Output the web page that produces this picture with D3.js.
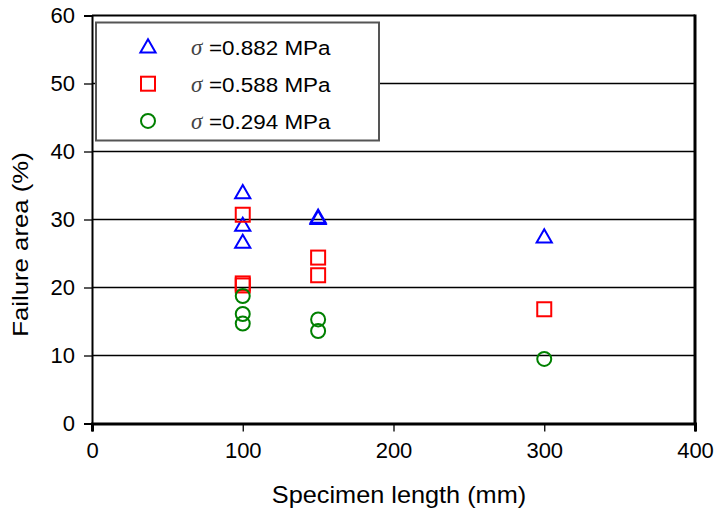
<!DOCTYPE html>
<html>
<head>
<meta charset="utf-8">
<script src="https://cdn.jsdelivr.net/npm/d3@7"></script>
<style>
  body { margin: 0; background: #fff; }
  text { font-family: "Liberation Sans", Arial, sans-serif; }
</style>
</head>
<body>
<svg id="chart" width="717" height="512"></svg>
<script>
// series data
var triX = [100, 100, 100, 150, 150, 300],
    triY = [34.0, 29.2, 26.7, 30.4, 30.2, 27.5];
var sqX = [100, 100, 100, 150, 150, 300],
    sqY = [30.7, 20.6, 20.3, 24.4, 21.8, 16.8];
var circX = [100, 100, 100, 150, 150, 300],
    circY = [18.75, 16.1, 14.7, 15.3, 13.6, 9.5];

var xTicks = [0, 100, 200, 300, 400],
    yTicks = [0, 10, 20, 30, 40, 50, 60];
var legendLabels = ["=0.882 MPa", "=0.588 MPa", "=0.294 MPa"];

// plot box
var plotLeft = 92, plotRight = 695, plotTop = 15.5, plotBottom = 423.5;

var svg = d3.select("#chart");

var x = d3.scaleLinear().domain([0, 400]).range([plotLeft, plotRight]),
    y = d3.scaleLinear().domain([0, 60]).range([plotBottom, plotTop]);

// horizontal gridlines
svg.append("g")
    .selectAll("line")
    .data(yTicks.filter(function(d) { return d > 0; }))
  .enter().append("line")
    .attr("x1", plotLeft).attr("x2", plotRight)
    .attr("y1", function(d) { return y(d); })
    .attr("y2", function(d) { return y(d); })
    .attr("stroke", "#000")
    .attr("stroke-width", function(d) { return d == 60 ? 2 : 1.3; });

// right border
svg.append("line")
    .attr("x1", plotRight).attr("x2", plotRight)
    .attr("y1", plotTop - 1).attr("y2", plotBottom)
    .attr("stroke", "#000").attr("stroke-width", 3);

// y axis
var yAxis = svg.append("g")
    .attr("transform", "translate(" + plotLeft + ",0)")
    .call(d3.axisLeft(y).tickValues(yTicks).tickSize(8).tickPadding(9));
yAxis.select(".domain").attr("stroke-width", 2);
yAxis.selectAll(".tick line").attr("stroke-width", 1.3);
yAxis.selectAll("text").style("font-size", "22px").attr("fill", "#000")
    .attr("font-family", null);

// x axis
var xAxis = svg.append("g")
    .attr("transform", "translate(0," + plotBottom + ")")
    .call(d3.axisBottom(x).tickValues(xTicks).tickSize(8).tickPadding(11));
xAxis.select(".domain").attr("stroke-width", 3);
xAxis.selectAll(".tick line").attr("stroke-width", 1.3);
xAxis.selectAll("text").style("font-size", "22px").attr("fill", "#000")
    .attr("font-family", null);

// axis titles
svg.append("text")
    .attr("transform", "translate(399,503) scale(1.1,1)")
    .attr("text-anchor", "middle")
    .style("font-size", "23px")
    .text("Specimen length (mm)");

svg.append("text")
    .attr("transform", "translate(28,244.5) rotate(-90) scale(1.12,1)")
    .attr("text-anchor", "middle")
    .style("font-size", "23px")
    .text("Failure area (%)");

// markers
var triangle = d3.symbol().type(d3.symbolTriangle).size(100);

function drawTri(g, px, py) {
  g.append("path")
      .attr("d", triangle)
      .attr("transform", "translate(" + px + "," + (py + 1.5) + ")")
      .attr("fill", "none").attr("stroke", "#0000ff").attr("stroke-width", 2);
}
function drawSq(g, px, py) {
  g.append("rect")
      .attr("x", px - 7).attr("y", py - 7)
      .attr("width", 14).attr("height", 14)
      .attr("fill", "none").attr("stroke", "#ff0000").attr("stroke-width", 2);
}
function drawCirc(g, px, py) {
  g.append("circle")
      .attr("cx", px).attr("cy", py).attr("r", 7)
      .attr("fill", "none").attr("stroke", "#008000").attr("stroke-width", 2);
}

var marks = svg.append("g");
triX.forEach(function(d, i) { drawTri(marks, x(d), y(triY[i])); });
sqX.forEach(function(d, i) { drawSq(marks, x(d), y(sqY[i])); });
circX.forEach(function(d, i) { drawCirc(marks, x(d), y(circY[i])); });

// legend
var legend = svg.append("g");
legend.append("rect")
    .attr("x", 96).attr("y", 22.5)
    .attr("width", 283).attr("height", 118)
    .attr("fill", "#fff").attr("stroke", "#555").attr("stroke-width", 2);

var drawers = [drawTri, drawSq, drawCirc];
legendLabels.forEach(function(label, i) {
  var ry = 46.5 + i * 37.2;
  drawers[i](legend, 148, ry);
  legend.append("text")
      .attr("x", 191).attr("y", ry + 8)
      .style("font-family", "'Liberation Serif', 'Times New Roman', serif")
      .style("font-style", "italic")
      .style("font-size", "23px")
      .attr("fill", "#444")
      .text("σ");
  legend.append("text")
      .attr("transform", "translate(209," + (ry + 8) + ") scale(1.15,1)")
      .style("font-size", "19.5px")
      .text(label);
});
</script>
</body>
</html>
